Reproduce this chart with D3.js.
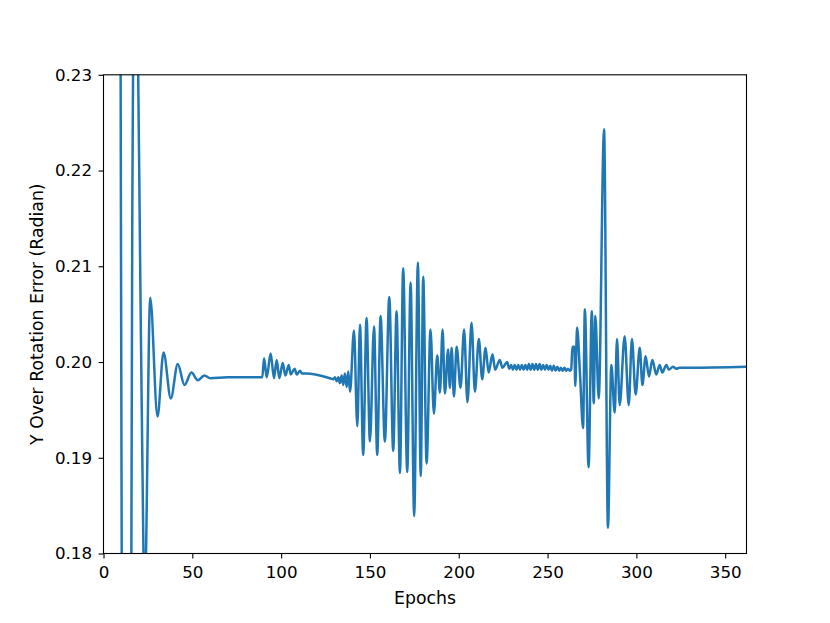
<!DOCTYPE html>
<html>
<head>
<meta charset="utf-8">
<script src="https://cdn.jsdelivr.net/npm/d3@7"></script>
<style>
  html, body { margin: 0; padding: 0; background: #fff; }
  svg { display: block; }
  text { font-family: "DejaVu Sans", sans-serif; }
</style>
</head>
<body>
<div id="chart"></div>
<script>
// ---- data ----
const epochs = [
  0, 4, 9, 11, 14, 16.2, 18, 20, 22.5, 23.3, 26.3,
  30.4, 33.8, 37.9, 41.8, 45.6, 49.5, 53.1, 56.8, 60, 70, 89.4,
  90.4, 91.9, 94.1, 96, 97.5, 99, 100.9, 102.4, 104.3, 105.4, 107.6, 108.8, 110.6, 111.8, 114.4, 127.5,
  129.3, 130.3, 131.3, 132.2, 133.1, 134.1, 135, 135.9, 136.9, 137.8, 138.8,
  141, 142.9, 144.4, 146.2, 148.1, 150, 152.3, 154.1, 156, 158.4, 160.9, 163.1, 165, 166.9,
  168.7, 171, 172.9, 174.9, 177, 178.6, 180, 181.9, 184.1, 186, 187.9, 189.4, 190.9, 192.2,
  194.0, 195.0, 196.0, 197.3, 198.8, 201.0, 203.0, 204.9, 207.2, 209.1, 211.3, 213.2, 215.1,
  216.8, 219.0, 220.5, 223.1, 224.6, 227.2,
  228.5, 229.5, 230.5, 231.5, 232.5, 233.5, 234.5, 235.5, 236.5, 237.5, 238.5, 239.5, 240.5,
  241.5, 242.5, 243.5, 244.5, 245.5, 246.5, 247.5, 248.5, 249.5, 250.5, 251.5, 252.5, 253.5,
  254.5, 255.5, 256.5, 257.5, 258.5, 259.5, 260.5, 261.5, 262.5, 263.3,
  264.0, 265.1, 265.6, 266.6, 268.3, 270.0, 271.0, 273.1, 274.9, 276.0, 276.9, 278.8,
  281.8, 284.0, 285.9, 287.8, 289.1, 290.6, 293.4, 295.7, 297.5, 299.6, 301.9, 303.4,
  305.2, 307.1, 309.0, 311.2, 313.1, 314.6, 316.9, 318.3, 320.6, 322.5, 324.3, 330, 362
];
const errors = [
  0.60, 0.45, 0.29, 0.12, 0.08, 0.215, 0.25, 0.222, 0.18, 0.1765, 0.2067,
  0.1943, 0.2010, 0.1962, 0.1998, 0.1976, 0.1989, 0.1981, 0.1986, 0.1983, 0.1984, 0.1984,
  0.2004, 0.1984, 0.2009, 0.1983, 0.2002, 0.1983, 0.1999, 0.1986, 0.1997, 0.1987, 0.1993, 0.1987, 0.1991, 0.1988, 0.1988, 0.1983,
  0.1982, 0.1984, 0.1980, 0.1984, 0.1978, 0.1986, 0.1976, 0.1988, 0.1974, 0.1990, 0.1969,
  0.2033, 0.1933, 0.2039, 0.1903, 0.2046, 0.1917, 0.2037, 0.1903, 0.2048, 0.1917, 0.2068, 0.1907, 0.2053, 0.1884,
  0.2098, 0.1885, 0.2083, 0.1839, 0.2104, 0.1881, 0.2089, 0.1894, 0.2034, 0.1946, 0.2007, 0.1968, 0.2034, 0.1967,
  0.2013, 0.1973, 0.2015, 0.1964, 0.2016, 0.1973, 0.2034, 0.1958, 0.2041, 0.1969, 0.2024, 0.1982, 0.2015,
  0.1989, 0.2008, 0.1992, 0.2002, 0.1994, 0.2000,
  0.1993, 0.1997, 0.1992, 0.1997, 0.1992, 0.1997, 0.1992, 0.1997, 0.1992, 0.1997, 0.1992, 0.1998, 0.1992,
  0.1998, 0.1992, 0.1998, 0.1992, 0.1998, 0.1992, 0.1997, 0.1992, 0.1997, 0.1992, 0.1996, 0.1991, 0.1996,
  0.1991, 0.1995, 0.1991, 0.1994, 0.1991, 0.1994, 0.1991, 0.1993, 0.1991, 0.1992,
  0.2016, 0.2016, 0.1975, 0.2036, 0.1986, 0.1931, 0.2055, 0.1890, 0.2053, 0.1957, 0.2048, 0.1962,
  0.2243, 0.1827, 0.1997, 0.1947, 0.2024, 0.1955, 0.2027, 0.1955, 0.2024, 0.1966, 0.2015, 0.1976,
  0.2006, 0.1985, 0.2002, 0.1987, 0.1997, 0.1989, 0.1997, 0.1992, 0.1995, 0.1993, 0.1994, 0.1994, 0.1995
];
const xTicks = [0, 50, 100, 150, 200, 250, 300, 350];
const yTicks = [0.18, 0.19, 0.20, 0.21, 0.22, 0.23];
const xDomain = [0, 362];
const yDomain = [0.18, 0.23];
const xLabel = "Epochs";
const yLabel = "Y Over Rotation Error (Radian)";

// ---- layout ----
const W = 830, H = 623;
const mLeft = 103.5, mRight = 746.5, mTop = 74.8, mBottom = 553.5;
const tickFont = "16.7px", labelFont = "17.3px";

const svg = d3.select("#chart").append("svg")
  .attr("width", W).attr("height", H);

const x = d3.scaleLinear().domain(xDomain).range([mLeft, mRight]);
const y = d3.scaleLinear().domain(yDomain).range([mBottom, mTop]);

svg.append("defs").append("clipPath").attr("id", "clip")
  .append("rect").attr("x", mLeft).attr("y", mTop)
  .attr("width", mRight - mLeft).attr("height", mBottom - mTop);

const data = epochs.map((e, i) => [e, errors[i]]);

svg.append("path")
  .datum(data)
  .attr("clip-path", "url(#clip)")
  .attr("fill", "none")
  .attr("stroke", "#1f77b4")
  .attr("stroke-width", 2.5)
  .attr("stroke-linejoin", "round")
  .attr("stroke-linecap", "square")
  .attr("d", d3.line().x(d => x(d[0])).y(d => y(d[1])).curve(d3.curveMonotoneX));

// axes
const xAxis = d3.axisBottom(x).tickValues(xTicks).tickFormat(d3.format("d"))
  .tickSize(4.9).tickPadding(8);
const yAxis = d3.axisLeft(y).tickValues(yTicks).tickFormat(d3.format(".2f"))
  .tickSize(4.9).tickPadding(6.5);

const gx = svg.append("g").attr("transform", `translate(0,${mBottom})`).call(xAxis);
const gy = svg.append("g").attr("transform", `translate(${mLeft},0)`).call(yAxis);
[gx, gy].forEach(g => {
  g.select(".domain").remove();
  g.selectAll(".tick line").attr("stroke", "#000").attr("stroke-width", 1.1);
  g.selectAll(".tick text").attr("fill", "#000")
    .style("font-family", "'DejaVu Sans', sans-serif").style("font-size", tickFont);
});

// frame
svg.append("rect").attr("x", mLeft).attr("y", mTop)
  .attr("width", mRight - mLeft).attr("height", mBottom - mTop)
  .attr("fill", "none").attr("stroke", "#000").attr("stroke-width", 1.1);

svg.append("text")
  .attr("x", (mLeft + mRight) / 2).attr("y", 604)
  .attr("text-anchor", "middle")
  .style("font-size", labelFont).attr("fill", "#000")
  .text(xLabel);

svg.append("text")
  .attr("transform", `translate(43,${(mTop + mBottom) / 2}) rotate(-90)`)
  .attr("text-anchor", "middle")
  .style("font-size", labelFont).attr("fill", "#000")
  .text(yLabel);
</script>
</body>
</html>
